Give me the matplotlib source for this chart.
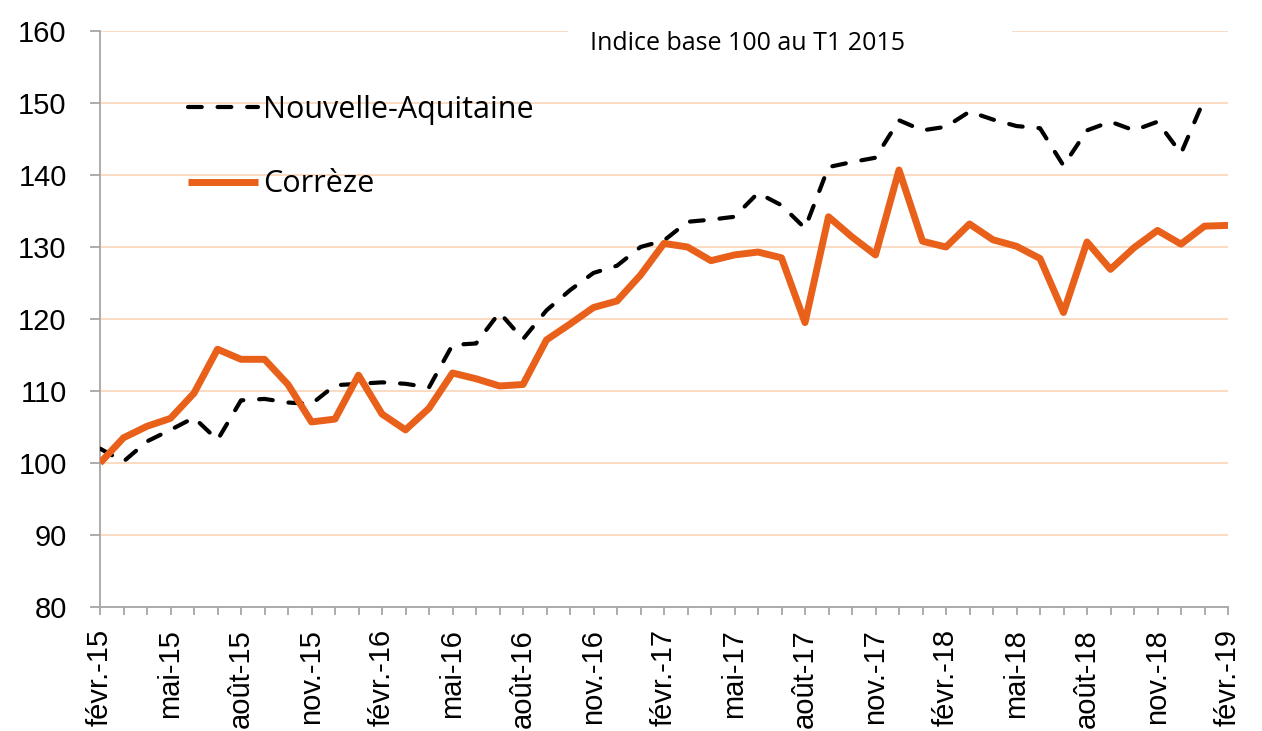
import numpy as np
import matplotlib
matplotlib.use("Agg")
import matplotlib.pyplot as plt
from matplotlib.patches import Rectangle
from matplotlib.ticker import MultipleLocator

# Monthly series, févr. 2015 -> févr. 2019
correze = [100.0, 103.5, 105.1, 106.2, 109.7, 115.8, 114.4, 114.4, 110.9, 105.7,
           106.1, 112.2, 106.8, 104.6, 107.6, 112.5, 111.7, 110.7, 110.9, 117.1,
           119.3, 121.6, 122.5, 126.1, 130.5, 130.0, 128.1, 128.9, 129.3, 128.5,
           119.5, 134.2, 131.4, 128.9, 140.7, 130.8, 130.0, 133.2, 131.0, 130.1,
           128.4, 120.9, 130.7, 126.9, 129.9, 132.3, 130.4, 132.9, 133.0]

nouvelle_aquitaine = [102.0, 100.2, 103.0, 104.6, 106.3, 103.2, 108.7, 108.9, 108.4, 108.2,
                      110.8, 111.0, 111.2, 111.0, 110.5, 116.4, 116.6, 120.9, 117.2, 121.2,
                      124.0, 126.4, 127.4, 130.0, 130.9, 133.5, 133.8, 134.2, 137.5, 135.8,
                      132.6, 141.1, 141.8, 142.4, 147.6, 146.2, 146.7, 148.8, 147.7, 146.8,
                      146.5, 141.3, 146.2, 147.4, 146.2, 147.4, 143.0, 150.6, np.nan]

tick_labels = ["févr.-15", "mai-15", "août-15", "nov.-15",
               "févr.-16", "mai-16", "août-16", "nov.-16",
               "févr.-17", "mai-17", "août-17", "nov.-17",
               "févr.-18", "mai-18", "août-18", "nov.-18",
               "févr.-19"]

months = np.arange(len(correze))

plt.rcParams["font.family"] = ["Liberation Sans", "DejaVu Sans"]

fig = plt.figure(figsize=(12.62, 7.31), dpi=100)
ax = fig.add_axes([100 / 1262, 1 - 607 / 731, 1128 / 1262, 576 / 731])

# Lines
ax.plot(months, nouvelle_aquitaine, color="black", linewidth=3.0,
        linestyle=(0, (3.3, 3.8)), dash_capstyle="round", label="Nouvelle-Aquitaine", zorder=3)
ax.plot(months, correze, color="#E8601A", linewidth=5, solid_capstyle="butt",
        label="Corrèze", zorder=4)

# Axes
ax.set_xlim(0, 48)
ax.set_ylim(80, 160)
ax.set_yticks(np.arange(80, 161, 10))
ax.set_xticks(np.arange(0, 49, 3))
ax.set_xticklabels(tick_labels, rotation=90)
ax.xaxis.set_minor_locator(MultipleLocator(1))

ax.grid(axis="y", color="#FAD9BE", linewidth=1.3)
ax.set_axisbelow(True)

for side in ["top", "right"]:
    ax.spines[side].set_visible(False)
for side in ["left", "bottom"]:
    ax.spines[side].set_color("#A6A6A6")
    ax.spines[side].set_linewidth(1.3)

ax.tick_params(axis="y", labelsize=21, length=7, width=1.3, color="#A6A6A6", pad=17)
ax.tick_params(axis="x", which="both", labelsize=21, length=6, width=1.3,
               color="#A6A6A6", pad=10)

# Legend
leg = ax.legend(loc="upper left", bbox_to_anchor=(188 / 1262, 1 - 95 / 731),
                bbox_transform=fig.transFigure, frameon=False,
                handlelength=2.3, handletextpad=0.15, labelspacing=1.45,
                borderpad=0, borderaxespad=0, prop={"family": "Open Sans", "size": 22})

# Annotation box covering the top gridline
fig.add_artist(Rectangle((568 / 1262, 1 - 70 / 731), 444 / 1262, 50 / 731,
                         transform=fig.transFigure, facecolor="white",
                         edgecolor="none", zorder=1))
fig.text(590 / 1262, 1 - 43 / 731, "Indice base 100 au T1 2015",
         ha="left", va="center", fontsize=18, family="Open Sans", zorder=2)

plt.savefig("out.png", dpi=100)
plt.close()
